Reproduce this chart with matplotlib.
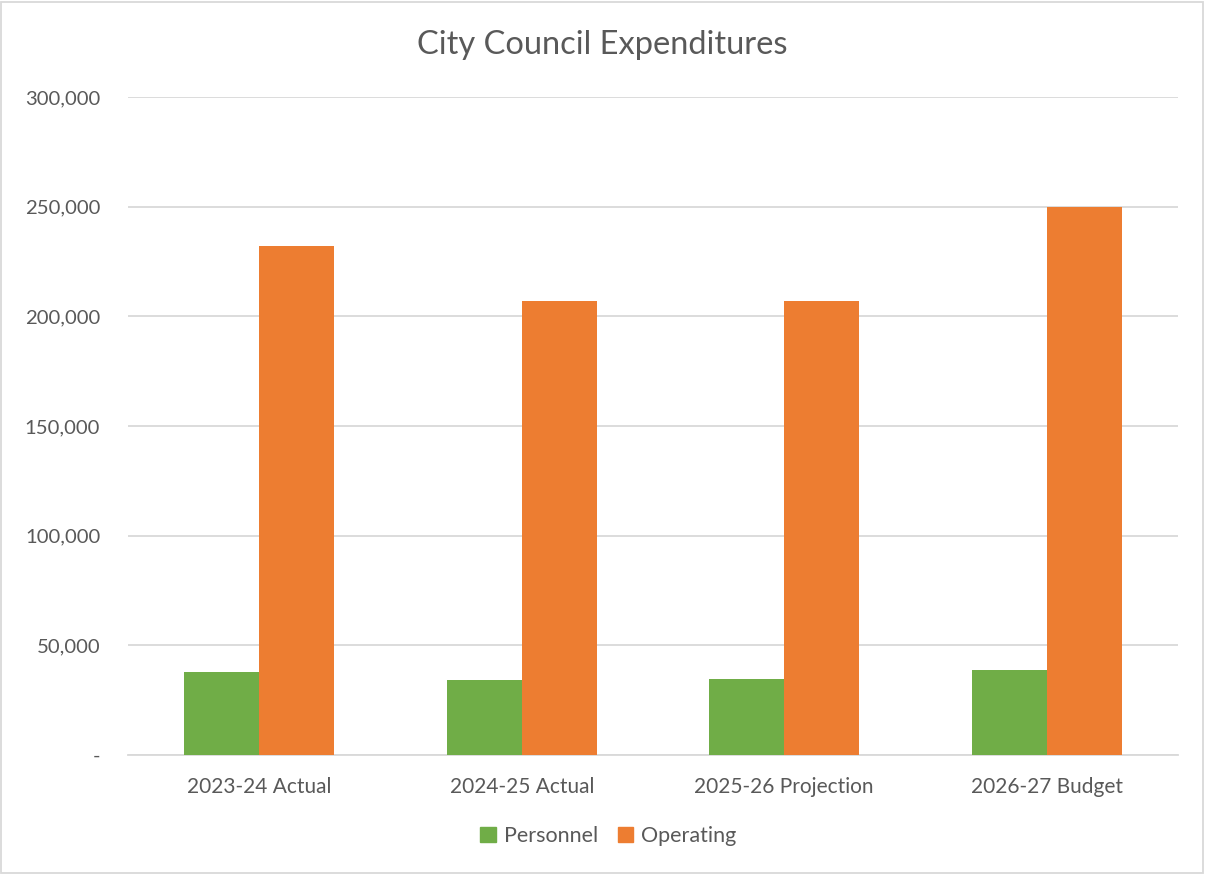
import matplotlib.pyplot as plt
import matplotlib.patches as mpatches
import numpy as np

plt.rcParams['font.family'] = ['Lato', 'DejaVu Sans']

# Expenditure data by fiscal year
categories = ["2023-24 Actual", "2024-25 Actual", "2025-26 Projection", "2026-27 Budget"]
personnel = [38000, 34400, 34500, 38600]
operating = [231900, 207000, 207000, 250000]
yticks = [0, 50000, 100000, 150000, 200000, 250000, 300000]
ytick_labels = ["-", "50,000", "100,000", "150,000", "200,000", "250,000", "300,000"]

GREEN = "#70AD47"
ORANGE = "#ED7D31"
TEXT = "#595959"
GRID = "#D9D9D9"

fig = plt.figure(figsize=(12.05, 8.74), dpi=100)
ax = fig.add_axes([128 / 1205, 119 / 874, 1050 / 1205, 658 / 874])

x = np.arange(len(categories))
width = 150 / 262.5 / 2
ax.bar(x - width / 2, personnel, width, color=GREEN, label="Personnel", zorder=3)
ax.bar(x + width / 2, operating, width, color=ORANGE, label="Operating", zorder=3)

ax.set_xlim(-0.5, len(categories) - 0.5)
ax.set_ylim(0, 300000)
ax.set_yticks(yticks)
ax.set_yticklabels(ytick_labels)
ax.set_xticks(x)
ax.set_xticklabels(categories)
ax.tick_params(axis="both", length=0, colors=TEXT)
ax.tick_params(axis="y", pad=20, labelsize=14.6)
ax.tick_params(axis="x", pad=16, labelsize=15)

ax.yaxis.grid(True, color=GRID, linewidth=1.3, zorder=0)
ax.set_axisbelow(True)
for side in ["top", "right", "left"]:
    ax.spines[side].set_visible(False)
ax.spines["bottom"].set_color(GRID)
ax.spines["bottom"].set_linewidth(1.3)

fig.text(0.5, 1 - 45 / 874, "City Council Expenditures", ha="center", va="center",
         fontsize=23.5, color=TEXT)

handles = [mpatches.Patch(color=GREEN, label="Personnel"),
           mpatches.Patch(color=ORANGE, label="Operating")]
fig.legend(handles=handles, loc="center", bbox_to_anchor=(0.505, 1 - 836 / 874),
           ncol=2, frameon=False, fontsize=15.5, handlelength=0.7, handleheight=0.7,
           columnspacing=0.9, handletextpad=0.4, labelcolor=TEXT)

# chart area border
fig.patches.append(mpatches.Rectangle((0.001, 0.001), 0.997, 0.997, transform=fig.transFigure,
                                      fill=False, edgecolor=GRID, linewidth=1.3))

fig.savefig("out.png", dpi=100)
